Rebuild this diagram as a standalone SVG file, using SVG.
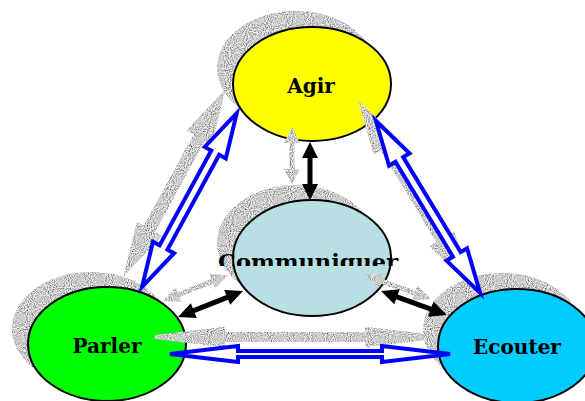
<svg xmlns="http://www.w3.org/2000/svg" width="585" height="401" viewBox="0 0 585 401">
<defs>
<filter id="stip" filterUnits="userSpaceOnUse" x="0" y="0" width="585" height="401">
<feTurbulence type="fractalNoise" baseFrequency="0.95" numOctaves="1" seed="3" result="n"/>
<feColorMatrix in="n" type="matrix" values="1.8 0 0 0 -0.3  1.8 0 0 0 -0.3  1.8 0 0 0 -0.3  0 0 0 0 1" result="g"/>
<feComposite in="g" in2="SourceGraphic" operator="in"/>
</filter>
<clipPath id="cclip"><rect x="200" y="240" width="220" height="26"/></clipPath>
</defs>
<style>
.sh{fill:#000;filter:url(#stip)}
.node{stroke:#000;stroke-width:2}
.lbl{font-family:"DejaVu Serif",serif;font-weight:bold;font-size:20px;fill:#000;text-anchor:middle}
.blue{fill:#fff;stroke:#0000ff;stroke-width:4;stroke-linejoin:miter}
.blk{fill:#000}
.gsh{fill:#000;stroke:#000;stroke-width:4}
</style>
<g id="node-agir">
<ellipse class="sh" cx="296" cy="68" rx="79" ry="57"/>
<ellipse class="node" cx="312" cy="84" rx="79" ry="57" fill="#ffff00"/>
<text class="lbl" x="311" y="93">Agir</text>
</g>
<g id="node-communiquer">
<ellipse class="sh" cx="296" cy="243" rx="79" ry="58"/>
<ellipse class="node" cx="312" cy="258" rx="79" ry="58" fill="#b8dfe4"/>
<text class="lbl" x="308" y="269" textLength="180" lengthAdjust="spacingAndGlyphs" clip-path="url(#cclip)">Communiquer</text>
</g>
<g id="node-parler">
<ellipse class="sh" cx="91" cy="329" rx="79" ry="57"/>
<ellipse class="node" cx="107" cy="344" rx="79" ry="57" fill="#00ff00"/>
<text class="lbl" x="107" y="353">Parler</text>
</g>
<g id="node-ecouter">
<ellipse class="sh" cx="502" cy="330" rx="79" ry="57"/>
<ellipse class="node" cx="517" cy="346" rx="79" ry="57" fill="#00ccff"/>
<text class="lbl" x="517" y="354">Ecouter</text>
</g>
<g id="connectors">
<g filter="url(#stip)">
<polygon class="gsh" transform="translate(-15,-17) translate(142,287) rotate(-61.4)" points="0,0 45,-12 45,-4.5 153,-4.5 153,-12 198,0 153,12 153,4.5 45,4.5 45,12"/>
<polygon class="gsh" transform="translate(-14,-14) translate(376,121) rotate(58.8)" points="0,0 45,-12 45,-4.5 156,-4.5 156,-12 201,0 156,12 156,4.5 45,4.5 45,12"/>
<polygon class="gsh" transform="translate(-15,-17) translate(170,354)" points="0,0 68,-8 68,-3 212,-3 212,-8 280,0 212,8 212,3 68,3 68,8"/>
<polygon transform="translate(-18,-15) translate(310,142) rotate(90)" points="0,0 16,-8 16,-2.5 42,-2.5 42,-8 58,0 42,8 42,2.5 16,2.5 16,8"/>
<polygon transform="translate(-15,-16) translate(178,317) rotate(-21.8)" points="0,0 17,-8 17,-2.5 53,-2.5 53,-8 70,0 53,8 53,2.5 17,2.5 17,8"/>
<polygon transform="translate(-16,-16) translate(381,291) rotate(20)" points="0,0 17,-8 17,-2.5 53,-2.5 53,-8 70,0 53,8 53,2.5 17,2.5 17,8"/>
</g>
<polygon class="blue" transform="translate(142,287) rotate(-61.4)" points="0,0 45,-12 45,-4.5 153,-4.5 153,-12 198,0 153,12 153,4.5 45,4.5 45,12"/>
<polygon class="blue" transform="translate(376,121) rotate(58.8)" points="0,0 45,-12 45,-4.5 156,-4.5 156,-12 201,0 156,12 156,4.5 45,4.5 45,12"/>
<polygon class="blue" transform="translate(170,354)" points="0,0 68,-8 68,-3 212,-3 212,-8 280,0 212,8 212,3 68,3 68,8"/>
<polygon class="blk" transform="translate(310,142) rotate(90)" points="0,0 16,-8 16,-2.5 42,-2.5 42,-8 58,0 42,8 42,2.5 16,2.5 16,8"/>
<polygon class="blk" transform="translate(178,317) rotate(-21.8)" points="0,0 17,-8 17,-2.5 53,-2.5 53,-8 70,0 53,8 53,2.5 17,2.5 17,8"/>
<polygon class="blk" transform="translate(381,291) rotate(20)" points="0,0 17,-8 17,-2.5 53,-2.5 53,-8 70,0 53,8 53,2.5 17,2.5 17,8"/>
</g>
</svg>
